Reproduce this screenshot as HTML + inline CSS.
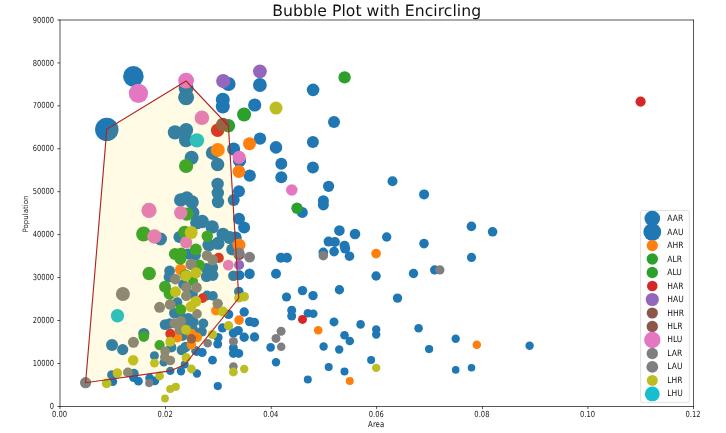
<!DOCTYPE html><html><head><meta charset="utf-8"><style>html,body{margin:0;padding:0;background:#fff;}svg{display:block;will-change:transform;}text{font-family:"DejaVu Sans","Liberation Sans",sans-serif;text-rendering:geometricPrecision;}</style></head><body>
<svg width="726" height="433" viewBox="0 0 726 433">
<rect width="726" height="433" fill="#fff"/>
<circle cx="133.4" cy="76.4" r="10.3" fill="#1f77b4"/>
<circle cx="186.1" cy="88.0" r="7.5" fill="#1f77b4"/>
<circle cx="186.1" cy="97.3" r="8.0" fill="#1f77b4"/>
<circle cx="228.5" cy="84.0" r="7.1" fill="#1f77b4"/>
<circle cx="259.9" cy="85.0" r="6.9" fill="#1f77b4"/>
<circle cx="222.8" cy="106.5" r="7.0" fill="#1f77b4"/>
<circle cx="222.8" cy="99.8" r="7.0" fill="#1f77b4"/>
<circle cx="254.7" cy="105.0" r="6.6" fill="#1f77b4"/>
<circle cx="313.1" cy="89.9" r="6.3" fill="#1f77b4"/>
<circle cx="106.8" cy="129.4" r="11.7" fill="#1f77b4"/>
<circle cx="175.0" cy="132.4" r="7.2" fill="#1f77b4"/>
<circle cx="186.2" cy="130.0" r="7.0" fill="#1f77b4"/>
<circle cx="186.0" cy="140.2" r="7.0" fill="#1f77b4"/>
<circle cx="191.6" cy="157.8" r="7.0" fill="#1f77b4"/>
<circle cx="212.8" cy="152.9" r="7.0" fill="#1f77b4"/>
<circle cx="217.6" cy="164.5" r="6.7" fill="#1f77b4"/>
<circle cx="233.6" cy="149.0" r="6.6" fill="#1f77b4"/>
<circle cx="239.5" cy="160.7" r="6.6" fill="#1f77b4"/>
<circle cx="260.0" cy="138.6" r="6.2" fill="#1f77b4"/>
<circle cx="249.7" cy="175.6" r="6.2" fill="#1f77b4"/>
<circle cx="334.0" cy="122.0" r="6.0" fill="#1f77b4"/>
<circle cx="312.9" cy="142.1" r="6.0" fill="#1f77b4"/>
<circle cx="276.0" cy="147.4" r="6.3" fill="#1f77b4"/>
<circle cx="281.3" cy="163.7" r="6.0" fill="#1f77b4"/>
<circle cx="281.3" cy="177.3" r="6.0" fill="#1f77b4"/>
<circle cx="312.9" cy="167.6" r="6.0" fill="#1f77b4"/>
<circle cx="160.5" cy="239.0" r="6.5" fill="#1f77b4"/>
<circle cx="217.6" cy="184.0" r="6.2" fill="#1f77b4"/>
<circle cx="217.8" cy="193.0" r="6.2" fill="#1f77b4"/>
<circle cx="218.0" cy="202.0" r="6.2" fill="#1f77b4"/>
<circle cx="180.7" cy="200.0" r="6.7" fill="#1f77b4"/>
<circle cx="186.8" cy="198.0" r="6.7" fill="#1f77b4"/>
<circle cx="192.1" cy="202.0" r="6.7" fill="#1f77b4"/>
<circle cx="192.8" cy="212.8" r="6.7" fill="#1f77b4"/>
<circle cx="196.8" cy="222.8" r="6.7" fill="#1f77b4"/>
<circle cx="202.2" cy="221.5" r="6.7" fill="#1f77b4"/>
<circle cx="212.2" cy="226.9" r="6.7" fill="#1f77b4"/>
<circle cx="179.4" cy="236.9" r="6.0" fill="#1f77b4"/>
<circle cx="223.0" cy="234.2" r="6.5" fill="#1f77b4"/>
<circle cx="229.7" cy="237.6" r="6.5" fill="#1f77b4"/>
<circle cx="218.0" cy="243.3" r="6.5" fill="#1f77b4"/>
<circle cx="208.9" cy="245.0" r="6.5" fill="#1f77b4"/>
<circle cx="233.7" cy="200.0" r="6.0" fill="#1f77b4"/>
<circle cx="239.0" cy="218.8" r="6.0" fill="#1f77b4"/>
<circle cx="244.1" cy="227.5" r="6.0" fill="#1f77b4"/>
<circle cx="239.0" cy="191.3" r="6.0" fill="#1f77b4"/>
<circle cx="235.7" cy="237.6" r="6.0" fill="#1f77b4"/>
<circle cx="392.5" cy="181.3" r="5.0" fill="#1f77b4"/>
<circle cx="302.3" cy="212.4" r="5.5" fill="#1f77b4"/>
<circle cx="328.6" cy="186.3" r="5.6" fill="#1f77b4"/>
<circle cx="323.4" cy="200.7" r="5.5" fill="#1f77b4"/>
<circle cx="323.4" cy="204.9" r="5.5" fill="#1f77b4"/>
<circle cx="339.4" cy="230.6" r="5.3" fill="#1f77b4"/>
<circle cx="355.0" cy="234.0" r="5.3" fill="#1f77b4"/>
<circle cx="386.7" cy="237.0" r="4.7" fill="#1f77b4"/>
<circle cx="328.6" cy="241.6" r="5.0" fill="#1f77b4"/>
<circle cx="334.9" cy="242.0" r="5.0" fill="#1f77b4"/>
<circle cx="344.5" cy="245.8" r="5.0" fill="#1f77b4"/>
<circle cx="345.2" cy="248.6" r="5.0" fill="#1f77b4"/>
<circle cx="334.1" cy="251.6" r="4.8" fill="#1f77b4"/>
<circle cx="349.5" cy="256.2" r="4.8" fill="#1f77b4"/>
<circle cx="323.3" cy="252.4" r="4.8" fill="#1f77b4"/>
<circle cx="376.1" cy="276.0" r="4.7" fill="#1f77b4"/>
<circle cx="413.5" cy="273.5" r="4.7" fill="#1f77b4"/>
<circle cx="339.4" cy="289.8" r="4.7" fill="#1f77b4"/>
<circle cx="302.5" cy="290.6" r="4.7" fill="#1f77b4"/>
<circle cx="313.0" cy="295.6" r="4.7" fill="#1f77b4"/>
<circle cx="397.5" cy="298.1" r="4.7" fill="#1f77b4"/>
<circle cx="424.1" cy="194.4" r="5.0" fill="#1f77b4"/>
<circle cx="471.4" cy="226.4" r="4.8" fill="#1f77b4"/>
<circle cx="492.6" cy="231.8" r="4.8" fill="#1f77b4"/>
<circle cx="424.0" cy="243.6" r="4.8" fill="#1f77b4"/>
<circle cx="471.5" cy="257.4" r="4.6" fill="#1f77b4"/>
<circle cx="434.6" cy="269.9" r="4.6" fill="#1f77b4"/>
<circle cx="418.6" cy="328.2" r="4.3" fill="#1f77b4"/>
<circle cx="429.1" cy="349.1" r="4.1" fill="#1f77b4"/>
<circle cx="455.7" cy="338.7" r="4.2" fill="#1f77b4"/>
<circle cx="455.7" cy="369.9" r="3.8" fill="#1f77b4"/>
<circle cx="471.5" cy="367.7" r="3.8" fill="#1f77b4"/>
<circle cx="529.6" cy="345.7" r="4.2" fill="#1f77b4"/>
<circle cx="307.9" cy="313.3" r="4.3" fill="#1f77b4"/>
<circle cx="313.3" cy="313.8" r="4.3" fill="#1f77b4"/>
<circle cx="334.0" cy="321.9" r="4.5" fill="#1f77b4"/>
<circle cx="360.6" cy="324.4" r="4.3" fill="#1f77b4"/>
<circle cx="376.2" cy="329.4" r="4.2" fill="#1f77b4"/>
<circle cx="376.2" cy="334.5" r="4.2" fill="#1f77b4"/>
<circle cx="344.5" cy="335.3" r="4.3" fill="#1f77b4"/>
<circle cx="349.8" cy="341.0" r="4.3" fill="#1f77b4"/>
<circle cx="323.6" cy="346.5" r="4.2" fill="#1f77b4"/>
<circle cx="339.2" cy="349.5" r="4.2" fill="#1f77b4"/>
<circle cx="371.1" cy="359.9" r="4.0" fill="#1f77b4"/>
<circle cx="328.7" cy="367.1" r="4.0" fill="#1f77b4"/>
<circle cx="344.5" cy="371.6" r="4.0" fill="#1f77b4"/>
<circle cx="307.8" cy="379.4" r="4.0" fill="#1f77b4"/>
<circle cx="232.2" cy="249.4" r="6.0" fill="#1f77b4"/>
<circle cx="233.4" cy="275.8" r="5.3" fill="#1f77b4"/>
<circle cx="239.4" cy="275.2" r="5.0" fill="#1f77b4"/>
<circle cx="249.6" cy="273.7" r="5.2" fill="#1f77b4"/>
<circle cx="280.9" cy="257.8" r="5.0" fill="#1f77b4"/>
<circle cx="286.9" cy="257.8" r="5.0" fill="#1f77b4"/>
<circle cx="276.0" cy="273.8" r="5.0" fill="#1f77b4"/>
<circle cx="238.8" cy="291.6" r="4.8" fill="#1f77b4"/>
<circle cx="244.2" cy="312.0" r="4.7" fill="#1f77b4"/>
<circle cx="228.6" cy="314.4" r="4.7" fill="#1f77b4"/>
<circle cx="249.6" cy="321.6" r="4.7" fill="#1f77b4"/>
<circle cx="254.4" cy="322.5" r="4.7" fill="#1f77b4"/>
<circle cx="238.2" cy="330.6" r="4.7" fill="#1f77b4"/>
<circle cx="233.4" cy="333.0" r="4.7" fill="#1f77b4"/>
<circle cx="244.2" cy="337.2" r="4.7" fill="#1f77b4"/>
<circle cx="254.5" cy="337.0" r="4.7" fill="#1f77b4"/>
<circle cx="286.5" cy="297.0" r="4.6" fill="#1f77b4"/>
<circle cx="291.7" cy="310.2" r="4.5" fill="#1f77b4"/>
<circle cx="291.7" cy="316.0" r="4.5" fill="#1f77b4"/>
<circle cx="233.4" cy="348.0" r="4.5" fill="#1f77b4"/>
<circle cx="233.4" cy="353.4" r="4.5" fill="#1f77b4"/>
<circle cx="238.8" cy="353.4" r="4.5" fill="#1f77b4"/>
<circle cx="270.6" cy="347.4" r="4.3" fill="#1f77b4"/>
<circle cx="276.0" cy="362.2" r="4.2" fill="#1f77b4"/>
<circle cx="188.2" cy="254.0" r="5.5" fill="#1f77b4"/>
<circle cx="195.4" cy="255.2" r="5.5" fill="#1f77b4"/>
<circle cx="169.6" cy="271.0" r="5.4" fill="#1f77b4"/>
<circle cx="169.0" cy="277.0" r="5.4" fill="#1f77b4"/>
<circle cx="206.5" cy="268.5" r="5.6" fill="#1f77b4"/>
<circle cx="212.5" cy="267.5" r="5.6" fill="#1f77b4"/>
<circle cx="206.5" cy="276.5" r="5.6" fill="#1f77b4"/>
<circle cx="212.8" cy="275.3" r="5.6" fill="#1f77b4"/>
<circle cx="183.2" cy="284.4" r="5.0" fill="#1f77b4"/>
<circle cx="192.8" cy="294.0" r="5.0" fill="#1f77b4"/>
<circle cx="177.3" cy="302.2" r="5.0" fill="#1f77b4"/>
<circle cx="207.0" cy="295.5" r="4.9" fill="#1f77b4"/>
<circle cx="212.9" cy="295.9" r="4.9" fill="#1f77b4"/>
<circle cx="193.7" cy="322.0" r="5.0" fill="#1f77b4"/>
<circle cx="203.3" cy="323.5" r="5.0" fill="#1f77b4"/>
<circle cx="201.8" cy="331.6" r="5.0" fill="#1f77b4"/>
<circle cx="193.0" cy="329.4" r="5.0" fill="#1f77b4"/>
<circle cx="222.5" cy="327.9" r="4.6" fill="#1f77b4"/>
<circle cx="174.4" cy="313.1" r="5.4" fill="#1f77b4"/>
<circle cx="188.4" cy="318.3" r="5.4" fill="#1f77b4"/>
<circle cx="181.5" cy="317.0" r="5.2" fill="#1f77b4"/>
<circle cx="165.1" cy="324.6" r="5.4" fill="#1f77b4"/>
<circle cx="169.6" cy="323.5" r="5.2" fill="#1f77b4"/>
<circle cx="185.0" cy="325.0" r="5.2" fill="#1f77b4"/>
<circle cx="182.5" cy="335.9" r="5.0" fill="#1f77b4"/>
<circle cx="171.4" cy="347.4" r="5.0" fill="#1f77b4"/>
<circle cx="181.8" cy="350.0" r="5.2" fill="#1f77b4"/>
<circle cx="185.5" cy="347.0" r="5.2" fill="#1f77b4"/>
<circle cx="154.4" cy="355.8" r="4.5" fill="#1f77b4"/>
<circle cx="195.8" cy="350.7" r="4.6" fill="#1f77b4"/>
<circle cx="218.1" cy="337.4" r="4.5" fill="#1f77b4"/>
<circle cx="217.7" cy="344.0" r="4.5" fill="#1f77b4"/>
<circle cx="196.6" cy="351.4" r="4.5" fill="#1f77b4"/>
<circle cx="202.2" cy="352.5" r="4.5" fill="#1f77b4"/>
<circle cx="212.5" cy="360.2" r="4.4" fill="#1f77b4"/>
<circle cx="163.7" cy="362.4" r="4.2" fill="#1f77b4"/>
<circle cx="184.7" cy="364.6" r="4.0" fill="#1f77b4"/>
<circle cx="170.3" cy="370.9" r="4.2" fill="#1f77b4"/>
<circle cx="181.0" cy="371.2" r="4.2" fill="#1f77b4"/>
<circle cx="196.9" cy="373.5" r="4.2" fill="#1f77b4"/>
<circle cx="154.8" cy="380.9" r="4.4" fill="#1f77b4"/>
<circle cx="149.6" cy="378.0" r="4.4" fill="#1f77b4"/>
<circle cx="111.8" cy="374.9" r="4.7" fill="#1f77b4"/>
<circle cx="112.9" cy="381.6" r="4.3" fill="#1f77b4"/>
<circle cx="134.0" cy="373.5" r="4.7" fill="#1f77b4"/>
<circle cx="133.6" cy="377.5" r="4.5" fill="#1f77b4"/>
<circle cx="138.4" cy="381.2" r="4.4" fill="#1f77b4"/>
<circle cx="112.0" cy="345.1" r="6.0" fill="#1f77b4"/>
<circle cx="122.7" cy="349.6" r="5.6" fill="#1f77b4"/>
<circle cx="143.8" cy="333.5" r="5.6" fill="#1f77b4"/>
<circle cx="217.8" cy="386.1" r="4.1" fill="#1f77b4"/>
<circle cx="217.8" cy="149.9" r="7.0" fill="#ff7f0e"/>
<circle cx="238.9" cy="171.5" r="6.4" fill="#ff7f0e"/>
<circle cx="249.5" cy="143.7" r="6.5" fill="#ff7f0e"/>
<circle cx="239.0" cy="245.0" r="6.5" fill="#ff7f0e"/>
<circle cx="376.1" cy="253.6" r="4.8" fill="#ff7f0e"/>
<circle cx="476.8" cy="344.8" r="4.3" fill="#ff7f0e"/>
<circle cx="318.2" cy="330.2" r="4.3" fill="#ff7f0e"/>
<circle cx="349.8" cy="380.9" r="4.0" fill="#ff7f0e"/>
<circle cx="239.1" cy="320.1" r="4.8" fill="#ff7f0e"/>
<circle cx="180.7" cy="269.5" r="5.7" fill="#ff7f0e"/>
<circle cx="216.1" cy="310.5" r="5.0" fill="#ff7f0e"/>
<circle cx="177.3" cy="337.4" r="5.0" fill="#ff7f0e"/>
<circle cx="191.4" cy="344.8" r="4.8" fill="#ff7f0e"/>
<circle cx="197.3" cy="337.4" r="4.8" fill="#ff7f0e"/>
<circle cx="191.4" cy="333.5" r="4.8" fill="#ff7f0e"/>
<circle cx="244.1" cy="114.5" r="7.0" fill="#2ca02c"/>
<circle cx="344.6" cy="77.4" r="6.2" fill="#2ca02c"/>
<circle cx="186.1" cy="166.0" r="7.1" fill="#2ca02c"/>
<circle cx="228.4" cy="125.8" r="6.8" fill="#2ca02c"/>
<circle cx="143.6" cy="234.0" r="7.5" fill="#2ca02c"/>
<circle cx="186.8" cy="214.1" r="6.7" fill="#2ca02c"/>
<circle cx="207.3" cy="236.2" r="5.7" fill="#2ca02c"/>
<circle cx="184.7" cy="232.2" r="6.5" fill="#2ca02c"/>
<circle cx="195.8" cy="249.5" r="6.0" fill="#2ca02c"/>
<circle cx="297.0" cy="208.2" r="5.7" fill="#2ca02c"/>
<circle cx="175.0" cy="254.0" r="6.1" fill="#2ca02c"/>
<circle cx="181.3" cy="253.4" r="5.8" fill="#2ca02c"/>
<circle cx="180.4" cy="258.8" r="6.0" fill="#2ca02c"/>
<circle cx="199.2" cy="265.3" r="5.7" fill="#2ca02c"/>
<circle cx="185.5" cy="275.2" r="5.8" fill="#2ca02c"/>
<circle cx="193.0" cy="281.2" r="5.0" fill="#2ca02c"/>
<circle cx="149.2" cy="273.5" r="6.7" fill="#2ca02c"/>
<circle cx="165.0" cy="286.8" r="6.0" fill="#2ca02c"/>
<circle cx="169.6" cy="293.7" r="6.0" fill="#2ca02c"/>
<circle cx="180.7" cy="309.4" r="5.5" fill="#2ca02c"/>
<circle cx="159.6" cy="345.1" r="5.1" fill="#2ca02c"/>
<circle cx="143.8" cy="336.6" r="5.3" fill="#2ca02c"/>
<circle cx="217.6" cy="130.3" r="6.7" fill="#d62728"/>
<circle cx="640.6" cy="101.6" r="5.1" fill="#d62728"/>
<circle cx="302.5" cy="319.4" r="4.5" fill="#d62728"/>
<circle cx="218.7" cy="257.9" r="5.1" fill="#d62728"/>
<circle cx="202.6" cy="298.1" r="4.8" fill="#d62728"/>
<circle cx="170.3" cy="333.8" r="5.0" fill="#d62728"/>
<circle cx="223.2" cy="81.1" r="7.1" fill="#9467bd"/>
<circle cx="259.9" cy="71.3" r="6.9" fill="#9467bd"/>
<circle cx="239.1" cy="265.0" r="5.1" fill="#9467bd"/>
<circle cx="222.8" cy="124.6" r="6.8" fill="#8c564b"/>
<circle cx="239.1" cy="254.5" r="5.6" fill="#8c564b"/>
<circle cx="191.4" cy="338.9" r="4.8" fill="#8c564b"/>
<circle cx="138.4" cy="93.4" r="9.6" fill="#e377c2"/>
<circle cx="186.1" cy="80.7" r="7.9" fill="#e377c2"/>
<circle cx="201.9" cy="117.8" r="7.3" fill="#e377c2"/>
<circle cx="239.1" cy="157.3" r="6.6" fill="#e377c2"/>
<circle cx="149.0" cy="210.4" r="7.6" fill="#e377c2"/>
<circle cx="154.4" cy="236.5" r="7.2" fill="#e377c2"/>
<circle cx="180.7" cy="212.8" r="6.7" fill="#e377c2"/>
<circle cx="186.1" cy="242.4" r="6.1" fill="#e377c2"/>
<circle cx="291.8" cy="190.0" r="5.8" fill="#e377c2"/>
<circle cx="228.3" cy="265.1" r="5.4" fill="#e377c2"/>
<circle cx="323.3" cy="255.7" r="4.8" fill="#7f7f7f"/>
<circle cx="439.9" cy="269.9" r="4.6" fill="#7f7f7f"/>
<circle cx="239.1" cy="253.0" r="5.4" fill="#7f7f7f"/>
<circle cx="249.6" cy="257.2" r="5.4" fill="#7f7f7f"/>
<circle cx="281.1" cy="331.2" r="4.5" fill="#7f7f7f"/>
<circle cx="233.4" cy="341.4" r="4.5" fill="#7f7f7f"/>
<circle cx="276.0" cy="338.4" r="4.5" fill="#7f7f7f"/>
<circle cx="281.2" cy="346.8" r="4.3" fill="#7f7f7f"/>
<circle cx="233.4" cy="366.6" r="4.3" fill="#7f7f7f"/>
<circle cx="191.2" cy="264.5" r="5.7" fill="#7f7f7f"/>
<circle cx="175.3" cy="279.1" r="5.3" fill="#7f7f7f"/>
<circle cx="207.0" cy="255.5" r="5.2" fill="#7f7f7f"/>
<circle cx="212.7" cy="260.0" r="5.4" fill="#7f7f7f"/>
<circle cx="122.9" cy="294.0" r="7.0" fill="#7f7f7f"/>
<circle cx="186.2" cy="287.4" r="5.2" fill="#7f7f7f"/>
<circle cx="186.2" cy="295.9" r="5.2" fill="#7f7f7f"/>
<circle cx="196.5" cy="287.4" r="5.3" fill="#7f7f7f"/>
<circle cx="170.3" cy="304.4" r="5.4" fill="#7f7f7f"/>
<circle cx="159.6" cy="307.3" r="5.5" fill="#7f7f7f"/>
<circle cx="217.7" cy="303.6" r="5.2" fill="#7f7f7f"/>
<circle cx="197.0" cy="313.9" r="4.8" fill="#7f7f7f"/>
<circle cx="174.4" cy="323.5" r="5.0" fill="#7f7f7f"/>
<circle cx="181.0" cy="321.2" r="5.1" fill="#7f7f7f"/>
<circle cx="179.5" cy="330.1" r="5.0" fill="#7f7f7f"/>
<circle cx="165.1" cy="351.4" r="4.8" fill="#7f7f7f"/>
<circle cx="164.8" cy="357.2" r="4.8" fill="#7f7f7f"/>
<circle cx="170.3" cy="360.5" r="4.8" fill="#7f7f7f"/>
<circle cx="207.7" cy="343.3" r="4.3" fill="#7f7f7f"/>
<circle cx="149.2" cy="383.1" r="4.1" fill="#7f7f7f"/>
<circle cx="127.9" cy="372.4" r="4.9" fill="#7f7f7f"/>
<circle cx="85.6" cy="382.7" r="5.6" fill="#7f7f7f"/>
<circle cx="133.4" cy="342.3" r="5.5" fill="#7f7f7f"/>
<circle cx="276.0" cy="108.1" r="6.5" fill="#bcbd22"/>
<circle cx="191.2" cy="232.6" r="6.5" fill="#bcbd22"/>
<circle cx="376.2" cy="367.9" r="4.2" fill="#bcbd22"/>
<circle cx="238.8" cy="298.0" r="4.6" fill="#bcbd22"/>
<circle cx="244.2" cy="296.7" r="4.8" fill="#bcbd22"/>
<circle cx="228.6" cy="325.8" r="4.7" fill="#bcbd22"/>
<circle cx="233.4" cy="372.0" r="4.4" fill="#bcbd22"/>
<circle cx="244.2" cy="369.0" r="4.2" fill="#bcbd22"/>
<circle cx="185.8" cy="275.8" r="5.6" fill="#bcbd22"/>
<circle cx="196.0" cy="272.8" r="5.6" fill="#bcbd22"/>
<circle cx="175.5" cy="291.8" r="5.5" fill="#bcbd22"/>
<circle cx="195.8" cy="301.4" r="5.5" fill="#bcbd22"/>
<circle cx="191.0" cy="306.6" r="5.5" fill="#bcbd22"/>
<circle cx="222.9" cy="311.6" r="5.0" fill="#bcbd22"/>
<circle cx="212.5" cy="334.6" r="4.6" fill="#bcbd22"/>
<circle cx="186.0" cy="329.7" r="5.0" fill="#bcbd22"/>
<circle cx="170.3" cy="341.8" r="5.0" fill="#bcbd22"/>
<circle cx="186.2" cy="357.7" r="4.6" fill="#bcbd22"/>
<circle cx="154.4" cy="363.1" r="4.4" fill="#bcbd22"/>
<circle cx="191.4" cy="369.0" r="4.4" fill="#bcbd22"/>
<circle cx="159.6" cy="376.0" r="4.4" fill="#bcbd22"/>
<circle cx="170.3" cy="389.0" r="4.1" fill="#bcbd22"/>
<circle cx="175.8" cy="386.8" r="4.1" fill="#bcbd22"/>
<circle cx="165.0" cy="398.5" r="3.9" fill="#bcbd22"/>
<circle cx="133.2" cy="360.2" r="5.2" fill="#bcbd22"/>
<circle cx="117.4" cy="373.1" r="4.8" fill="#bcbd22"/>
<circle cx="106.6" cy="383.4" r="4.8" fill="#bcbd22"/>
<circle cx="196.9" cy="140.4" r="7.2" fill="#17becf"/>
<circle cx="117.5" cy="315.7" r="6.7" fill="#17becf"/>
<polygon points="85.6,382.7 106.8,129.4 186.1,81.0 228.4,125.8 238.8,298.0 184.8,364.6 170.3,370.9" fill="#ffd700" fill-opacity="0.1" stroke="#000" stroke-opacity="0.1" stroke-width="0.6"/>
<polygon points="85.6,382.7 106.8,129.4 186.1,81.0 228.4,125.8 238.8,298.0 184.8,364.6 170.3,370.9" fill="none" stroke="#b22222" stroke-width="1.1" stroke-linejoin="miter"/>
<rect x="59.67" y="19.67" width="634.16" height="0.66" fill="#000"/>
<rect x="59.67" y="406.17" width="634.16" height="0.66" fill="#000"/>
<rect x="59.67" y="19.67" width="0.66" height="387.16" fill="#000"/>
<rect x="693.17" y="19.67" width="0.66" height="387.16" fill="#000"/>
<rect x="59.67" y="406.50" width="0.66" height="2.6" fill="#000"/>
<text transform="translate(59.60,417.00) scale(0.0970,0.1200)" font-size="70.0" text-anchor="middle" fill="#1a1a1a">0.00</text>
<rect x="165.25" y="406.50" width="0.66" height="2.6" fill="#000"/>
<text transform="translate(165.18,417.00) scale(0.0970,0.1200)" font-size="70.0" text-anchor="middle" fill="#1a1a1a">0.02</text>
<rect x="270.84" y="406.50" width="0.66" height="2.6" fill="#000"/>
<text transform="translate(270.77,417.00) scale(0.0970,0.1200)" font-size="70.0" text-anchor="middle" fill="#1a1a1a">0.04</text>
<rect x="376.42" y="406.50" width="0.66" height="2.6" fill="#000"/>
<text transform="translate(376.35,417.00) scale(0.0970,0.1200)" font-size="70.0" text-anchor="middle" fill="#1a1a1a">0.06</text>
<rect x="482.00" y="406.50" width="0.66" height="2.6" fill="#000"/>
<text transform="translate(481.93,417.00) scale(0.0970,0.1200)" font-size="70.0" text-anchor="middle" fill="#1a1a1a">0.08</text>
<rect x="587.59" y="406.50" width="0.66" height="2.6" fill="#000"/>
<text transform="translate(587.52,417.00) scale(0.0970,0.1200)" font-size="70.0" text-anchor="middle" fill="#1a1a1a">0.10</text>
<rect x="693.17" y="406.50" width="0.66" height="2.6" fill="#000"/>
<text transform="translate(693.10,417.00) scale(0.0970,0.1200)" font-size="70.0" text-anchor="middle" fill="#1a1a1a">0.12</text>
<rect x="57.40" y="406.17" width="2.6" height="0.66" fill="#000"/>
<text transform="translate(54.10,409.10) scale(0.0960,0.1200)" font-size="70.0" text-anchor="end" fill="#1a1a1a">0</text>
<rect x="57.40" y="363.23" width="2.6" height="0.66" fill="#000"/>
<text transform="translate(54.10,366.16) scale(0.0960,0.1200)" font-size="70.0" text-anchor="end" fill="#1a1a1a">10000</text>
<rect x="57.40" y="320.28" width="2.6" height="0.66" fill="#000"/>
<text transform="translate(54.10,323.21) scale(0.0960,0.1200)" font-size="70.0" text-anchor="end" fill="#1a1a1a">20000</text>
<rect x="57.40" y="277.34" width="2.6" height="0.66" fill="#000"/>
<text transform="translate(54.10,280.27) scale(0.0960,0.1200)" font-size="70.0" text-anchor="end" fill="#1a1a1a">30000</text>
<rect x="57.40" y="234.39" width="2.6" height="0.66" fill="#000"/>
<text transform="translate(54.10,237.32) scale(0.0960,0.1200)" font-size="70.0" text-anchor="end" fill="#1a1a1a">40000</text>
<rect x="57.40" y="191.45" width="2.6" height="0.66" fill="#000"/>
<text transform="translate(54.10,194.38) scale(0.0960,0.1200)" font-size="70.0" text-anchor="end" fill="#1a1a1a">50000</text>
<rect x="57.40" y="148.50" width="2.6" height="0.66" fill="#000"/>
<text transform="translate(54.10,151.43) scale(0.0960,0.1200)" font-size="70.0" text-anchor="end" fill="#1a1a1a">60000</text>
<rect x="57.40" y="105.56" width="2.6" height="0.66" fill="#000"/>
<text transform="translate(54.10,108.49) scale(0.0960,0.1200)" font-size="70.0" text-anchor="end" fill="#1a1a1a">70000</text>
<rect x="57.40" y="62.61" width="2.6" height="0.66" fill="#000"/>
<text transform="translate(54.10,65.54) scale(0.0960,0.1200)" font-size="70.0" text-anchor="end" fill="#1a1a1a">80000</text>
<rect x="57.40" y="19.67" width="2.6" height="0.66" fill="#000"/>
<text transform="translate(54.10,22.60) scale(0.0960,0.1200)" font-size="70.0" text-anchor="end" fill="#1a1a1a">90000</text>
<text transform="translate(376.15,426.60) scale(0.1000,0.1200)" font-size="70.0" text-anchor="middle" fill="#1a1a1a">Area</text>
<text transform="translate(27.50,214.00) rotate(-90) scale(0.1000,0.1050)" font-size="70.0" text-anchor="middle" fill="#1a1a1a">Population</text>
<text transform="translate(376.70,15.75) scale(0.1000,0.1000)" font-size="157.0" text-anchor="middle" fill="#111">Bubble Plot with Encircling</text>
<rect x="640.6" y="210.5" width="48.7" height="191.9" rx="1.8" ry="1.8" fill="#fff" fill-opacity="0.8" stroke="#ccc" stroke-width="0.6"/>
<circle cx="652.3" cy="218.60" r="7.8" fill="#1f77b4"/>
<text transform="translate(667.30,221.10) scale(0.1000,0.1150)" font-size="76.0" fill="#111">AAR</text>
<circle cx="652.3" cy="232.08" r="8.9" fill="#1f77b4"/>
<text transform="translate(667.30,234.58) scale(0.1000,0.1150)" font-size="76.0" fill="#111">AAU</text>
<circle cx="652.3" cy="245.57" r="5.6" fill="#ff7f0e"/>
<text transform="translate(667.30,248.07) scale(0.1000,0.1150)" font-size="76.0" fill="#111">AHR</text>
<circle cx="652.3" cy="259.06" r="5.7" fill="#2ca02c"/>
<text transform="translate(667.30,261.56) scale(0.1000,0.1150)" font-size="76.0" fill="#111">ALR</text>
<circle cx="652.3" cy="272.54" r="5.7" fill="#2ca02c"/>
<text transform="translate(667.30,275.04) scale(0.1000,0.1150)" font-size="76.0" fill="#111">ALU</text>
<circle cx="652.3" cy="286.02" r="5.3" fill="#d62728"/>
<text transform="translate(667.30,288.52) scale(0.1000,0.1150)" font-size="76.0" fill="#111">HAR</text>
<circle cx="652.3" cy="299.51" r="6.6" fill="#9467bd"/>
<text transform="translate(667.30,302.01) scale(0.1000,0.1150)" font-size="76.0" fill="#111">HAU</text>
<circle cx="652.3" cy="313.00" r="5.6" fill="#8c564b"/>
<text transform="translate(667.30,315.50) scale(0.1000,0.1150)" font-size="76.0" fill="#111">HHR</text>
<circle cx="652.3" cy="326.48" r="5.7" fill="#8c564b"/>
<text transform="translate(667.30,328.98) scale(0.1000,0.1150)" font-size="76.0" fill="#111">HLR</text>
<circle cx="652.3" cy="339.96" r="8.2" fill="#e377c2"/>
<text transform="translate(667.30,342.46) scale(0.1000,0.1150)" font-size="76.0" fill="#111">HLU</text>
<circle cx="652.3" cy="353.45" r="5.7" fill="#7f7f7f"/>
<text transform="translate(667.30,355.95) scale(0.1000,0.1150)" font-size="76.0" fill="#111">LAR</text>
<circle cx="652.3" cy="366.93" r="5.9" fill="#7f7f7f"/>
<text transform="translate(667.30,369.43) scale(0.1000,0.1150)" font-size="76.0" fill="#111">LAU</text>
<circle cx="652.3" cy="380.42" r="5.5" fill="#bcbd22"/>
<text transform="translate(667.30,382.92) scale(0.1000,0.1150)" font-size="76.0" fill="#111">LHR</text>
<circle cx="652.3" cy="393.90" r="7.4" fill="#17becf"/>
<text transform="translate(667.30,396.40) scale(0.1000,0.1150)" font-size="76.0" fill="#111">LHU</text>
</svg></body></html>
